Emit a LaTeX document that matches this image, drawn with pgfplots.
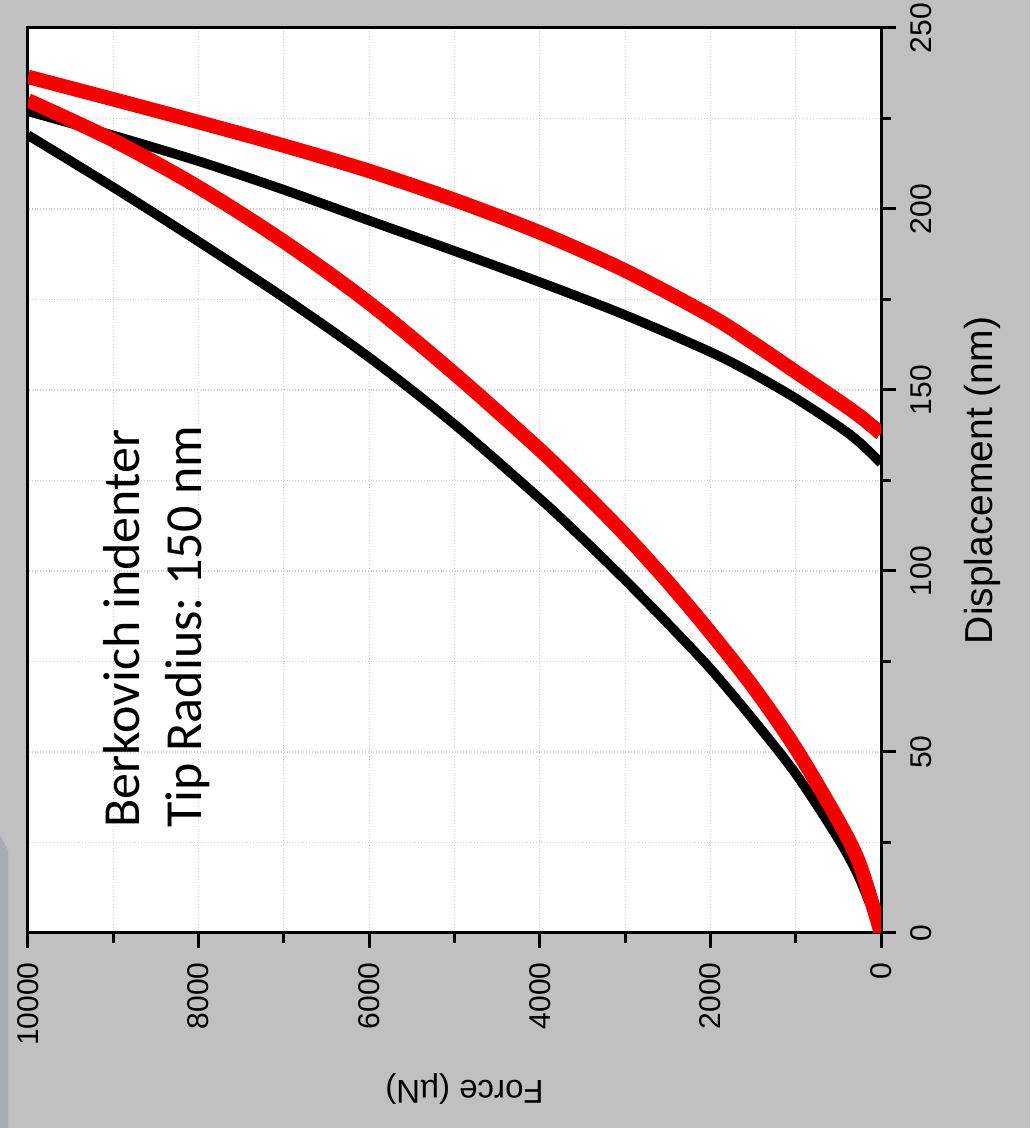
\documentclass[border=0pt]{standalone}
\usepackage{pgfplots}
\pgfplotsset{compat=1.18}
\usepackage{fontspec}
\setmainfont{Liberation Sans}
\newfontfamily\calfont{Carlito}
\definecolor{bggray}{HTML}{C0C0C0}
\definecolor{wedge}{HTML}{A9ADB3}
\definecolor{curvered}{HTML}{F40000}
\frenchspacing

\pgfplotstableread{
F D
0 0
250 15
500 26
1000 44
1500 59
2000 73
2500 85.5
3000 97.5
3500 109
4000 120
5000 140.5
6000 159
7000 175.5
8000 191
9000 206
10000 220.4
}\blackload

\pgfplotstableread{
F D
10000 227
9000 220.3
8000 213.2
7000 205.3
6000 196.8
5000 188.4
4000 179.8
3000 170.7
2000 160.5
1500 154.5
1000 147.7
500 140
250 135.5
0 129.8
}\blackunload

\pgfplotstableread{
F D
0 0
250 19
500 31
1000 51
1500 68
2000 83
2500 97
3000 110
3500 122
4000 133.5
5000 154.5
6000 174
7000 191
8000 206
9000 219
10000 230
}\redload

\pgfplotstableread{
F D
10000 236.5
9000 230.3
8000 224
7000 217.5
6000 210.5
5000 202.5
4000 193.5
3000 183
2000 170.5
1500 163
1000 155
500 147
250 142.8
0 138
}\redunload

\begin{document}
\begin{tikzpicture}[x=1pt,y=1pt]
\path[use as bounding box, fill=bggray] (0,0) rectangle (515,564);
\fill[wedge] (0,146.5) -- (4,139) -- (4,0) -- (0,0) -- cycle;
\begin{axis}[
  at={(14pt,97.5pt)}, anchor=south west, scale only axis,
  width=426.5pt, height=452.5pt,
  xmin=0, xmax=10000, ymin=0, ymax=250, x dir=reverse,
  axis background/.style={fill=white},
  axis line style={line width=1.5pt},
  xtick={0,2000,...,10000}, minor x tick num=1,
  ytick={0,50,...,250}, minor y tick num=1,
  xtick pos=left, ytick pos=right, yticklabel pos=right,
  tick align=outside,
  major tick length=7.5pt, minor tick length=5pt,
  every tick/.style={black, line width=1.5pt},
  grid=both,
  major grid style={densely dotted, gray!35, line width=0.6pt},
  minor grid style={densely dotted, gray!35, line width=0.6pt},
  scaled ticks=false,
  /pgf/number format/assume math mode=true,
  /pgf/number format/set thousands separator={},
  xticklabel style={font=\fontsize{15}{18}\selectfont, yshift=-7pt, rotate=90, anchor=east, inner sep=0pt},
  yticklabel style={font=\fontsize{15}{18}\selectfont, xshift=7pt, rotate=90, anchor=north, inner sep=0pt},
  xlabel={Force (µN)},
  ylabel={Displacement (nm)},
  every axis x label/.style={at={(axis description cs:0.5,0)}, yshift=-78pt, xshift=5pt, rotate=180, anchor=center, font=\fontsize{16.5}{20}\selectfont},
  every axis y label/.style={at={(axis description cs:1,0.5)}, xshift=50.5pt, rotate=90, anchor=center, font=\fontsize{19.5}{23}\selectfont},
]
\addplot[black, line width=4.8pt, smooth, line join=round] table[x=F,y=D] {\blackload};
\addplot[black, line width=4.8pt, smooth, line join=round] table[x=F,y=D] {\blackunload};
\addplot[curvered, line width=7.2pt, smooth, line join=round] table[x=F,y=D] {\redload};
\addplot[curvered, line width=7.2pt, smooth, line join=round] table[x=F,y=D] {\redunload};
\end{axis}
\node[rotate=90, anchor=north west, inner sep=0pt, align=left, font=\calfont\fontsize{26}{31}\selectfont] at (51.5,150) {Berkovich indenter\\Tip Radius: 150 nm};
\end{tikzpicture}
\end{document}
